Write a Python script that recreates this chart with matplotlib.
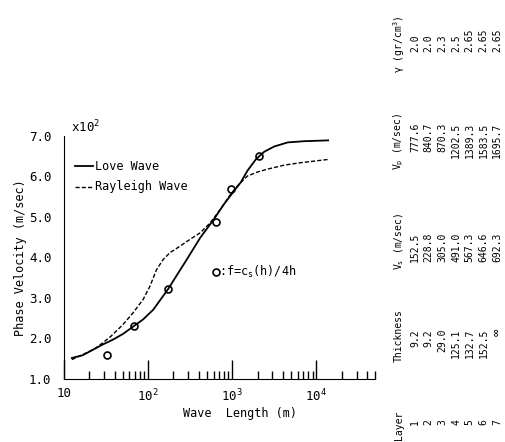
import numpy as np
import matplotlib.pyplot as plt
from matplotlib.ticker import FixedLocator, LogLocator, NullFormatter

plt.rcParams['font.family'] = ['DejaVu Sans Mono']
plt.rcParams['mathtext.fontset'] = 'custom'
plt.rcParams['mathtext.rm'] = 'DejaVu Sans Mono'
plt.rcParams['mathtext.it'] = 'DejaVu Sans Mono'

# curves (wave length in m, phase velocity in 10^2 m/sec)
love_x = [12.4, 16.6, 22.9, 28.8, 38, 50, 66, 87, 115, 145, 174, 219, 288, 417,
          603, 794, 1047, 1259, 1514, 1905, 2399, 3162, 4571, 7244, 13800]
love_y = [1.52, 1.585, 1.74, 1.85, 1.97, 2.11, 2.29, 2.47, 2.71, 3.00, 3.23, 3.56,
          3.95, 4.49, 4.94, 5.31, 5.64, 5.85, 6.14, 6.42, 6.61, 6.74, 6.84, 6.87, 6.89]
ray_x = [12.4, 16.6, 22.9, 28.8, 36.3, 50, 66, 87, 105, 126, 151, 182, 240, 316,
         417, 550, 724, 955, 1202, 1514, 2000, 2630, 4170, 6600, 13800]
ray_y = [1.48, 1.60, 1.74, 1.89, 2.06, 2.34, 2.63, 2.96, 3.29, 3.70, 3.95, 4.12,
         4.28, 4.45, 4.61, 4.86, 5.19, 5.56, 5.81, 6.01, 6.11, 6.18, 6.28, 6.34, 6.42]
circ_x = [32.2, 67.3, 174, 649, 955, 2051]
circ_y = [1.60, 2.30, 3.23, 4.88, 5.68, 6.51]

# layer table
layers = ['1', '2', '3', '4', '5', '6', '7']
thickness = ['9.2', '9.2', '29.0', '125.1', '132.7', '152.5', '\u221e']
vs = ['152.5', '228.8', '305.0', '491.0', '567.3', '646.6', '692.3']
vp = ['777.6', '840.7', '870.3', '1202.5', '1389.3', '1583.5', '1695.7']
rho = ['2.0', '2.0', '2.3', '2.5', '2.65', '2.65', '2.65']

fig = plt.figure(figsize=(5.06, 4.42), dpi=100)
ax = fig.add_axes([0.1265, 0.1425, 0.615, 0.55])

ax.plot(love_x, love_y, color='black', lw=1.3)
ax.plot(ray_x, ray_y, color='black', lw=1.0, ls=(0, (3, 1.5)))
ax.plot(circ_x, circ_y, 'o', mfc='none', mec='black', ms=5, mew=1.2)

ax.set_xscale('log')
ax.set_xlim(10, 5e4)
ax.set_ylim(1.0, 7.0)
for s in ['top', 'right']:
    ax.spines[s].set_visible(False)

ax.xaxis.set_major_locator(FixedLocator([10, 100, 1000, 10000]))
ax.xaxis.set_minor_locator(LogLocator(base=10, subs=np.arange(2, 10)))
ax.xaxis.set_minor_formatter(NullFormatter())
ax.set_xticklabels(['10', r'$10^2$', r'$10^3$', r'$10^4$'])
ax.tick_params(axis='x', which='major', direction='in', length=14, width=1.0,
               labelsize=9, pad=6)
ax.tick_params(axis='x', which='minor', direction='in', length=6, width=1.0)

ax.set_yticks([1, 2, 3, 4, 5, 6, 7])
ax.set_yticklabels(['1.0', '2.0', '3.0', '4.0', '5.0', '6.0', '7.0'])
ax.tick_params(axis='y', length=0, labelsize=9, pad=9)

fig.text(0.474, 0.065, 'Wave  Length (m)', ha='center', va='center', fontsize=8.5)
fig.text(0.04, 0.418, 'Phase Velocity (m/sec)', rotation=90, ha='center',
         va='center', fontsize=8.5)
fig.text(0.14, 0.712, r'x10$^2$', ha='left', va='center', fontsize=9)

# legend drawn by hand
ax.plot([0.035, 0.093], [0.875, 0.875], transform=ax.transAxes, color='black', lw=1.3)
ax.plot([0.035, 0.093], [0.79, 0.79], transform=ax.transAxes, color='black', lw=1.0,
        ls=(0, (3, 1.5)))
ax.text(0.10, 0.875, 'Love Wave', transform=ax.transAxes, va='center', fontsize=8.5)
ax.text(0.10, 0.79, 'Rayleigh Wave', transform=ax.transAxes, va='center', fontsize=8.5)

ax.plot([632], [3.65], 'o', mfc='none', mec='black', ms=5, mew=1.2)
ax.text(700, 3.65, r':f=c$_s$(h)/4h', va='center', ha='left', fontsize=8.5)

# rotated layer table
hx = 399 / 506
row_x = [(415 + 13.7 * i) / 506 for i in range(7)]
fs = 7


def fy(py):
    return 1 - py / 442


fig.text(hx, fy(440), 'Layer', rotation=90, ha='center', va='bottom', fontsize=fs)
fig.text(hx, fy(362), 'Thickness', rotation=90, ha='center', va='bottom', fontsize=fs)
fig.text(hx, fy(270), r'V$_s$ (m/sec)', rotation=90, ha='center', va='bottom', fontsize=fs)
fig.text(hx, fy(170), r'V$_p$ (m/sec)', rotation=90, ha='center', va='bottom', fontsize=fs)
fig.text(hx, fy(73), '\u03b3 (gr/cm$^3$)', rotation=90, ha='center', va='bottom', fontsize=fs)
for i in range(7):
    fig.text(row_x[i], fy(422), layers[i], rotation=90, ha='center', va='center', fontsize=fs)
    tfs = 9 if thickness[i] == '\u221e' else fs
    fig.text(row_x[i], fy(329), thickness[i], rotation=90, ha='center', va='top', fontsize=tfs)
    fig.text(row_x[i], fy(233), vs[i], rotation=90, ha='center', va='top', fontsize=fs)
    fig.text(row_x[i], fy(123), vp[i], rotation=90, ha='center', va='top', fontsize=fs)
    fig.text(row_x[i], fy(52), rho[i], rotation=90, ha='center', va='bottom', fontsize=fs)

fig.savefig('out.png', dpi=100)
